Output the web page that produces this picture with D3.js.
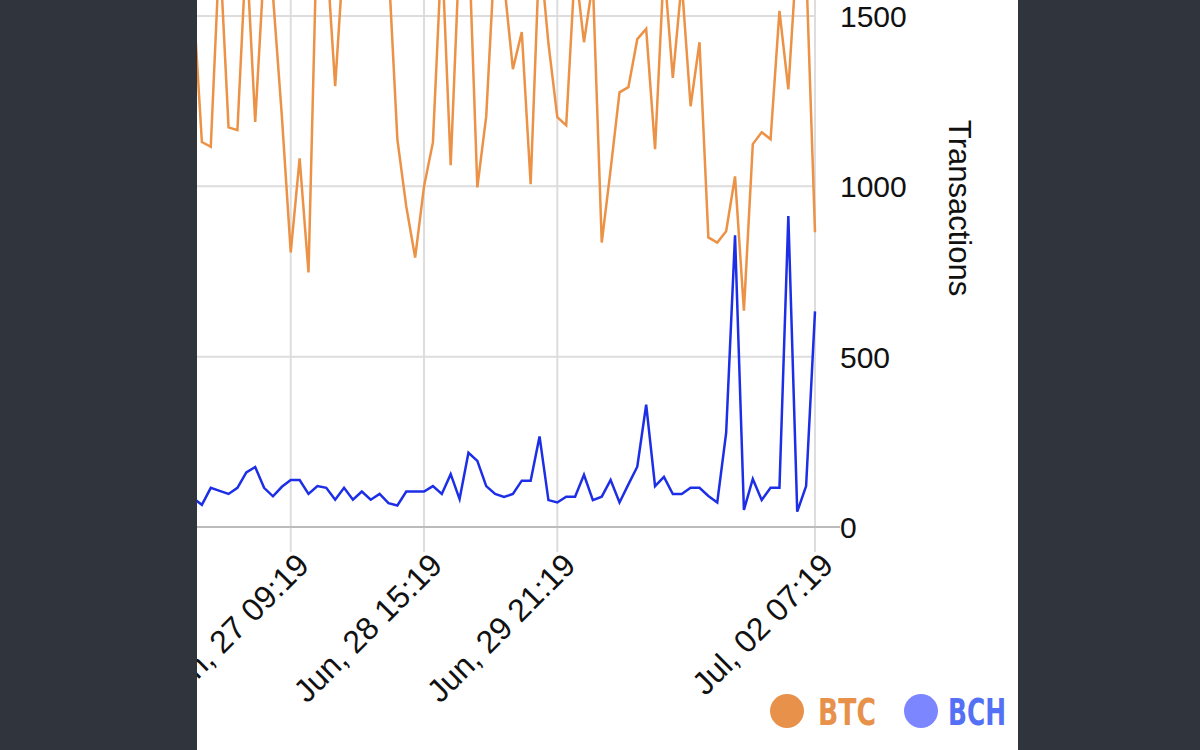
<!DOCTYPE html>
<html><head><meta charset="utf-8">
<script src="https://cdn.jsdelivr.net/npm/d3@7/dist/d3.min.js"></script>
<style>body{margin:0;background:#30343d;}svg{display:block}</style>
</head><body>
<svg id="c" width="1200" height="750"></svg>
<script>
// hours relative to Jul 02 07:19, one sample every 2 hours
const startHour = -140;
const stepHours = 2;
const btc = [1560,1130,1116,1700,1173,1165,1700,1189,1650,1560,1206,806,1082,747,1800,1700,1294,1700,1750,1850,1700,1800,1650,1138,941,791,1000,1129,1700,1062,1700,1750,997,1206,1700,1600,1344,1453,1006,1700,1420,1203,1179,1650,1423,1600,835,1050,1276,1291,1432,1462,1109,1650,1318,1600,1235,1423,850,835,868,1029,635,1124,1159,1138,1515,1285,1700,1650,865];
const bch = [85,65,115,106,97,115,160,176,115,90,118,138,138,97,120,115,80,115,80,104,80,97,70,63,104,104,104,120,97,155,82,218,194,120,97,88,97,136,136,266,79,72,89,89,153,79,89,138,72,125,177,359,120,147,97,97,115,115,91,72,276,856,50,141,79,115,115,913,45,120,633];
const tickHours = [-118, -88, -58, 0];
const tickLabels = ["Jun, 27 09:19","Jun, 28 15:19","Jun, 29 21:19","Jul, 02 07:19"];
const yTicks = [0,500,1000,1500];
const seriesNames = ["BTC","BCH"];

const svg = d3.select("#c");
svg.append("clipPath").attr("id","panel").append("rect").attr("x",197).attr("y",0).attr("width",821).attr("height",750);
const root = svg.append("g").attr("clip-path","url(#panel)");
root.append("rect").attr("x",197).attr("y",0).attr("width",821).attr("height",750).attr("fill","#fff");
const x = d3.scaleLinear().domain([-139.1,0]).range([197,815]);
const y = d3.scaleLinear().domain([0,1500]).range([527,16]);
const font = "Helvetica, 'Liberation Sans', Arial, sans-serif";

svg.append("clipPath").attr("id","clip").append("rect").attr("x",197).attr("y",0).attr("width",620).attr("height",530);
root.append("g").selectAll("line").data(yTicks.slice(1)).join("line")
  .attr("x1",197).attr("x2",815).attr("y1",d=>y(d)).attr("y2",d=>y(d)).attr("stroke","#ddd").attr("stroke-width",2);
root.append("g").selectAll("line").data(tickHours).join("line")
  .attr("x1",d=>x(d)).attr("x2",d=>x(d)).attr("y1",0).attr("y2",552).attr("stroke","#ddd").attr("stroke-width",2);
root.append("line").attr("x1",197).attr("x2",840).attr("y1",y(0)).attr("y2",y(0)).attr("stroke","#bbb").attr("stroke-width",2);

const line = d3.line().x((d,i)=>x(startHour+i*stepHours)).y(d=>y(d));
const g = root.append("g").attr("clip-path","url(#clip)");
g.append("path").datum(btc).attr("d",line).attr("fill","none").attr("stroke","#ec9246").attr("stroke-width",2.5);
g.append("path").datum(bch).attr("d",line).attr("fill","none").attr("stroke","#1c2ee6").attr("stroke-width",2.5);

root.append("g").selectAll("text").data(yTicks).join("text")
  .attr("x",840).attr("y",d=>y(d)+11).text(d=>d)
  .attr("font-family",font).attr("font-size",30).attr("fill","#111");
root.append("text").attr("transform","translate(949,208) rotate(90)").attr("text-anchor","middle")
  .attr("font-family",font).attr("font-size",31).attr("fill","#111").text("Transactions");
root.append("g").selectAll("text").data(tickHours).join("text")
  .attr("transform",(d)=>`translate(${x(d)+4},${551}) rotate(-45)`).attr("text-anchor","end")
  .attr("dy","0.71em")
  .attr("font-family",font).attr("font-size",32).attr("fill","#111").text((d,i)=>tickLabels[i]);

const leg = [{n:seriesNames[0],c:"#e8914a",t:"#e8914a",cx:787,tx:818},{n:seriesNames[1],c:"#7b86ff",t:"#5470f5",cx:921,tx:948}];
leg.forEach(l=>{
  root.append("circle").attr("cx",l.cx).attr("cy",711).attr("r",17).attr("fill",l.c);
  root.append("text").attr("x",l.tx).attr("y",725).text(l.n).attr("fill",l.t)
    .attr("font-family","'Liberation Sans Narrow', 'DejaVu Sans Condensed', sans-serif").attr("font-weight","bold")
    .attr("font-size",38).attr("textLength",58).attr("lengthAdjust","spacingAndGlyphs");
});
</script>
</body></html>
